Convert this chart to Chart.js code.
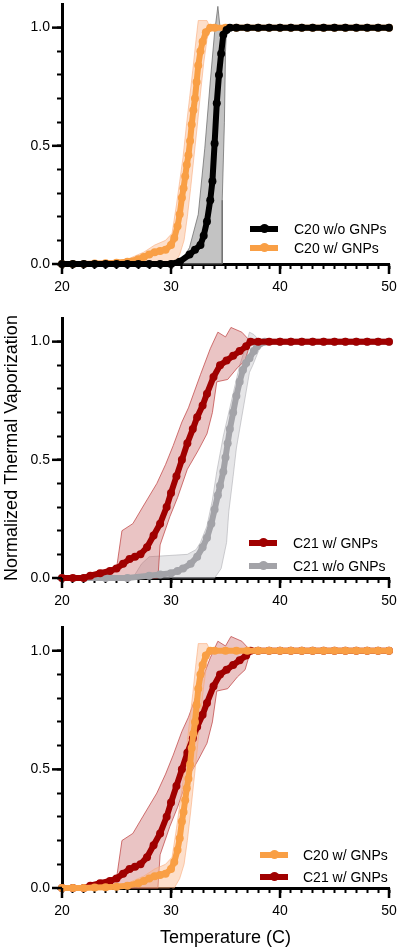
<!DOCTYPE html>
<html>
<head>
<meta charset="utf-8">
<script src="https://cdn.jsdelivr.net/npm/chart.js@4.4.1/dist/chart.umd.min.js"></script>
<style>
  html, body { margin: 0; padding: 0; background: #fff; }
  body { width: 400px; height: 951px; position: relative; overflow: hidden; font-family: 'Liberation Sans', Arial, sans-serif; }
  canvas { position: absolute; left: 0; }
  .row { position: absolute; height: 16px; line-height: 16px; font-size: 14px; color: #000; white-space: nowrap; }
  .swatch { position: absolute; left: 0; top: 5px; width: 28px; height: 6px; }
  .dot { position: absolute; left: 10px; top: -2px; width: 9px; height: 9px; border-radius: 50%; }
  .lbl { position: absolute; top: 0; }
</style>
</head>
<body>
<canvas id="c1" width="400" height="310" style="top:0px"></canvas>
<canvas id="c2" width="400" height="320" style="top:310px"></canvas>
<canvas id="c3" width="400" height="331" style="top:620px"></canvas>
<script>
// axis ticks
const xTicks = [20,21,22,23,24,25,26,27,28,29,30,31,32,33,34,35,36,37,38,39,40,41,42,43,44,45,46,47,48,49,50];
const xLabels = [20, 30, 40, 50];
const yTicks = [0, 0.1, 0.2, 0.3, 0.4, 0.5, 0.6, 0.7, 0.8, 0.9, 1.0];
const yLabels = [0, 0.5, 1.0];

// C20 w/o GNPs - mean
const c20NoX = [20,21,22,23,24,25,26,27,28,29,30,30.8,31.7,32.2,32.7,33.0,33.3,33.6,33.8,34.0,34.2,34.4,34.6,34.8,35.1,35.4,36,37,38,39,40,41,42,43,44,45,46,47,48,49,50];
const c20NoY = [0,0,0,0,0,0,0,0,0,0,0,0.01,0.04,0.06,0.08,0.12,0.18,0.27,0.35,0.51,0.68,0.80,0.89,0.97,0.99,1,1,1,1,1,1,1,1,1,1,1,1,1,1,1,1];
// C20 w/o GNPs - SD band
const c20NoUpX = [30.5,31.1,31.7,32.5,33.1,33.6,34.0,34.3,34.5,35.1];
const c20NoUpY = [0,0.02,0.07,0.21,0.49,0.77,0.98,1.09,1.0,1.0];
const c20NoLoX = [30.5,34.7,34.7,34.9,35.0,35.1];
const c20NoLoY = [0,0,0.27,0.6,0.9,1.0];

// C20 w/ GNPs - mean
const c20X = [20,21,22,23,24,25,26,27,27.5,28,28.5,29,29.5,30.0,30.3,30.6,30.8,31.0,31.15,31.3,31.45,31.6,31.75,31.9,32.05,32.2,32.35,32.5,32.7,32.9,33.2,33.6,34,35,36,37,38,39,40,41,42,43,44,45,46,47,48,49,50];
const c20Y = [0,0,0,0.002,0.003,0.005,0.01,0.02,0.03,0.04,0.05,0.055,0.06,0.08,0.11,0.16,0.21,0.28,0.32,0.37,0.42,0.46,0.52,0.59,0.65,0.70,0.77,0.84,0.90,0.94,0.98,1,1,1,1,1,1,1,1,1,1,1,1,1,1,1,1,1,1];
// C20 w/ GNPs - SD band
const c20UpX = [22,24,26,27.5,28.5,29.5,30.1,30.5,30.8,31.1,31.4,31.7,32.0,32.3,32.5,33.3,33.6];
const c20UpY = [0,0.01,0.02,0.05,0.08,0.10,0.13,0.25,0.35,0.45,0.58,0.70,0.82,0.95,1.03,1.03,1.0];
const c20LoX = [22,30.3,30.8,31.2,31.5,31.8,32.1,32.4,32.7,33.0,33.3,33.6];
const c20LoY = [0,0,0.04,0.10,0.20,0.32,0.45,0.58,0.72,0.85,0.95,1.0];

// C21 w/ GNPs - mean
const c21X = [20,21,22,22.6,23.5,24.4,25.0,25.6,26.2,26.7,27.2,27.8,28.4,29.0,29.6,30.0,30.5,31.0,31.5,32.0,32.4,32.9,33.3,33.9,34.5,35.1,35.7,36.3,36.9,37.3,38,39,40,41,42,43,44,45,46,47,48,49,50];
const c21Y = [0,0,0,0.01,0.02,0.03,0.04,0.06,0.08,0.09,0.10,0.13,0.18,0.23,0.30,0.36,0.43,0.50,0.57,0.63,0.68,0.73,0.78,0.85,0.90,0.92,0.94,0.96,0.98,1.0,1,1,1,1,1,1,1,1,1,1,1,1,1];
// C21 w/ GNPs - SD band
const c21UpX = [22,23,25,25.5,26.5,27.4,28.7,29.5,30.2,31.0,31.6,32.7,33.6,34.3,35.0,35.5,36.5,37.3];
const c21UpY = [0,0.02,0.04,0.2,0.23,0.30,0.40,0.48,0.56,0.66,0.72,0.86,0.97,1.04,1.02,1.06,1.04,1.0];
const c21LoX = [22,28.8,29.0,29.9,30.6,31.5,32.5,33.3,33.8,34.2,35.2,36.1,36.8,37.3];
const c21LoY = [0,0,0.14,0.26,0.34,0.46,0.54,0.61,0.70,0.83,0.84,0.89,0.92,1.0];

// C21 w/o GNPs - mean
const c21NoX = [20,22,24,26,28,29,30,30.6,31.1,31.8,32.4,32.9,33.3,33.7,34.0,34.3,34.5,34.8,35.0,35.2,35.4,35.7,36.0,36.3,36.6,36.9,37.2,37.6,37.9,38.6,40,41,42,43,44,45,46,47,48,49,50];
const c21NoY = [0,0,0,0,0.01,0.015,0.02,0.03,0.04,0.06,0.09,0.13,0.17,0.23,0.29,0.35,0.39,0.45,0.51,0.57,0.63,0.70,0.77,0.83,0.88,0.91,0.93,0.96,0.98,1.0,1,1,1,1,1,1,1,1,1,1,1];
// C21 w/o GNPs - SD band
const c21NoUpX = [26.5,27.3,28,31.5,32.3,32.7,33.3,33.8,34.2,34.8,35.4,35.8,36.3,36.8,37.2,37.6,38.2];
const c21NoUpY = [0,0.06,0.09,0.10,0.12,0.15,0.22,0.33,0.45,0.60,0.72,0.80,0.90,0.97,1.04,1.03,1.0];
const c21NoLoX = [26.5,34.0,34.6,35.1,35.3,35.7,36.0,36.6,37.2,37.5,38.2,38.6];
const c21NoLoY = [0,0,0.04,0.15,0.28,0.43,0.55,0.71,0.87,0.9,0.98,1.0];

const FONT = "'Liberation Sans', Arial, sans-serif";

const series = {
  c20No: { label: 'C20 w/o GNPs', color: '#000000', fill: 'rgba(135,135,135,0.5)', edge: 'rgba(100,100,100,0.7)' },
  c20:   { label: 'C20 w/ GNPs',  color: '#F99F45', fill: 'rgba(250,185,140,0.45)', edge: 'rgba(250,165,115,0.55)' },
  c21:   { label: 'C21 w/ GNPs',  color: '#A00000', fill: 'rgba(195,85,85,0.35)', edge: 'rgba(190,60,60,0.7)' },
  c21No: { label: 'C21 w/o GNPs', color: '#A3A3A8', fill: 'rgba(200,200,205,0.45)', edge: 'rgba(175,175,180,0.6)' }
};

function pts(xs, ys) {
  return xs.map((x, i) => ({ x: x, y: ys[i] }));
}

function meanSet(s, xs, ys, order) {
  return {
    label: s.label, data: pts(xs, ys), borderColor: s.color, backgroundColor: s.color,
    borderWidth: 6, pointRadius: 4, pointBorderWidth: 0, pointHoverRadius: 0,
    fill: false, clip: false, order: order
  };
}

function bandSet(s, ux, uy, lx, ly, order) {
  // closed shape: upper edge left->right, then lower edge right->left
  const data = pts(ux, uy).concat(pts(lx, ly).reverse());
  return {
    label: '', data: data, borderColor: s.edge, backgroundColor: s.fill,
    borderWidth: 1, pointRadius: 0, pointHoverRadius: 0, fill: 'shape', clip: false, order: order
  };
}

// longer major ticks on top of the short built-in ones
const majorTicks = {
  id: 'majorTicks',
  afterDraw(chart) {
    const ctx = chart.ctx, a = chart.chartArea;
    const xs = chart.scales.x, ys = chart.scales.y;
    ctx.save();
    ctx.strokeStyle = '#000';
    ctx.lineWidth = 2.5;
    xLabels.forEach(v => {
      const p = xs.getPixelForValue(v);
      ctx.beginPath(); ctx.moveTo(p, a.bottom); ctx.lineTo(p, a.bottom + 10); ctx.stroke();
    });
    yLabels.forEach(v => {
      const p = ys.getPixelForValue(v);
      ctx.beginPath(); ctx.moveTo(a.left, p); ctx.lineTo(a.left - 10, p); ctx.stroke();
    });
    ctx.restore();
  }
};

function makeChart(id, datasets, opts) {
  return new Chart(document.getElementById(id), {
    type: 'line',
    data: { datasets: datasets },
    options: {
      responsive: false,
      animation: false,
      devicePixelRatio: 1,
      layout: { padding: { top: opts.top, right: 11, left: 0, bottom: 0 } },
      plugins: { legend: { display: false }, tooltip: { enabled: false } },
      scales: {
        x: {
          type: 'linear', min: 20, max: 50,
          afterBuildTicks: s => { s.ticks = xTicks.map(v => ({ value: v })); },
          afterFit: s => { s.height = opts.xh; s.paddingLeft = 0; s.paddingRight = 0; },
          ticks: {
            autoSkip: false, maxRotation: 0, padding: 10, color: '#000',
            font: { family: FONT, size: 14 },
            callback: v => xLabels.includes(v) ? String(v) : ''
          },
          grid: { drawOnChartArea: false, tickLength: 5, tickWidth: 2, tickColor: '#000' },
          border: { color: '#000', width: 3 },
          title: {
            display: !!opts.xTitle, text: opts.xTitle || '', color: '#000',
            font: { family: FONT, size: 18 }, padding: { top: 0, bottom: 2 }
          }
        },
        y: {
          type: 'linear', min: 0, max: 1.1,
          afterBuildTicks: s => { s.ticks = yTicks.map(v => ({ value: v })); },
          afterFit: s => { s.width = 62; s.paddingTop = 0; s.paddingBottom = 0; },
          ticks: {
            autoSkip: false, padding: 7, color: '#000',
            font: { family: FONT, size: 14 },
            callback: v => yLabels.includes(v) ? v.toFixed(1) : ''
          },
          grid: { drawOnChartArea: false, tickLength: 5, tickWidth: 2, tickColor: '#000' },
          border: { color: '#000', width: 3 },
          title: {
            display: !!opts.yTitle, text: opts.yTitle || '', color: '#000',
            font: { family: FONT, size: 18 }, padding: { top: 1, bottom: 0 }
          }
        }
      }
    },
    plugins: [majorTicks]
  });
}

// top panel
makeChart('c1', [
  meanSet(series.c20No, c20NoX, c20NoY, 0),
  meanSet(series.c20, c20X, c20Y, 1),
  bandSet(series.c20, c20UpX, c20UpY, c20LoX, c20LoY, 2),
  bandSet(series.c20No, c20NoUpX, c20NoUpY, c20NoLoX, c20NoLoY, 3)
], { top: 3, xh: 46 });

// middle panel
makeChart('c2', [
  meanSet(series.c21, c21X, c21Y, 0),
  meanSet(series.c21No, c21NoX, c21NoY, 1),
  bandSet(series.c21, c21UpX, c21UpY, c21LoX, c21LoY, 2),
  bandSet(series.c21No, c21NoUpX, c21NoUpY, c21NoLoX, c21NoLoY, 3)
], { top: 8, xh: 52, yTitle: 'Normalized Thermal Vaporization' });

// bottom panel
makeChart('c3', [
  meanSet(series.c20, c20X, c20Y, 0),
  meanSet(series.c21, c21X, c21Y, 1),
  bandSet(series.c20, c20UpX, c20UpY, c20LoX, c20LoY, 2),
  bandSet(series.c21, c21UpX, c21UpY, c21LoX, c21LoY, 3)
], { top: 7, xh: 63, xTitle: 'Temperature (C)' });

// legends (html, placed inside each plot)
function addLegend(items, left, textLeft, rows) {
  items.forEach((s, i) => {
    const row = document.createElement('div');
    row.className = 'row';
    row.style.left = left + 'px';
    row.style.top = (rows[i] - 8) + 'px';
    row.innerHTML = '<div class="swatch" style="background:' + s.color + '"><div class="dot" style="background:' + s.color + '"></div></div>' +
      '<span class="lbl" style="left:' + textLeft + 'px">' + s.label + '</span>';
    document.body.appendChild(row);
  });
}
addLegend([series.c20No, series.c20], 250, 44, [229, 248]);
addLegend([series.c21, series.c21No], 249, 44, [543, 566]);
addLegend([series.c20, series.c21], 260, 43, [855, 877]);
</script>
</body>
</html>
